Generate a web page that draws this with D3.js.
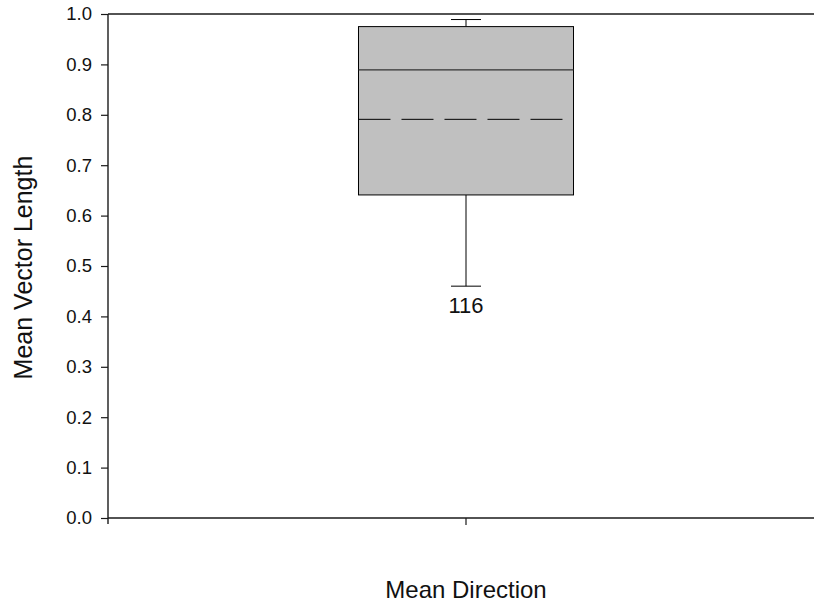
<!DOCTYPE html>
<html>
<head>
<meta charset="utf-8">
<script src="https://cdn.jsdelivr.net/npm/d3@7"></script>
<style>
  html, body { margin: 0; padding: 0; background: #fff; }
  svg { display: block; font-family: Arial, "Liberation Sans", sans-serif; }
</style>
</head>
<body>
<svg id="chart" width="814" height="605"></svg>
<script>
// Box plot data for the single group
const categories = ["Mean Direction"];
const whiskerLow = [0.460];
const quartile1 = [0.641];
const medians = [0.889];
const means = [0.791];
const quartile3 = [0.975];
const whiskerHigh = [0.989];
const pointLabels = ["116"];
const yTicks = [0.0, 0.1, 0.2, 0.3, 0.4, 0.5, 0.6, 0.7, 0.8, 0.9, 1.0];

const svg = d3.select("#chart");
const plot = { left: 108, right: 824, top: 14, bottom: 518 };

const x = d3.scaleBand()
  .domain(categories)
  .range([plot.left, plot.right])
  .paddingInner(0)
  .paddingOuter(1.165);

const y = d3.scaleLinear()
  .domain([0, 1])
  .range([plot.bottom, plot.top]);

const ink = "#1a1a1a";

// Y axis with outward ticks
const yAxis = svg.append("g")
  .attr("transform", `translate(${plot.left},0)`)
  .call(d3.axisLeft(y).tickValues(yTicks).tickFormat(d3.format(".1f")).tickSize(7).tickPadding(9));
yAxis.select(".domain").remove();
yAxis.selectAll(".tick line").attr("stroke", ink).attr("stroke-width", 1.2);
yAxis.selectAll(".tick text")
  .attr("fill", "#111")
  .style("font-size", "18.5px")
  .style("font-family", "Arial, 'Liberation Sans', sans-serif");

// X axis: single tick at the group centre, no labels
const xAxis = svg.append("g")
  .attr("transform", `translate(0,${plot.bottom})`)
  .call(d3.axisBottom(x).tickSize(7).tickFormat(""));
xAxis.select(".domain").remove();
xAxis.selectAll(".tick line").attr("stroke", ink).attr("stroke-width", 1.2);

// Frame lines: left, bottom and top
svg.append("line").attr("x1", plot.left).attr("x2", plot.left)
  .attr("y1", plot.top).attr("y2", plot.bottom + 6)
  .attr("stroke", ink).attr("stroke-width", 1.4);
svg.append("line").attr("x1", plot.left).attr("x2", plot.right)
  .attr("y1", plot.bottom).attr("y2", plot.bottom)
  .attr("stroke", ink).attr("stroke-width", 1.4);
svg.append("line").attr("x1", plot.left).attr("x2", plot.right)
  .attr("y1", plot.top).attr("y2", plot.top)
  .attr("stroke", ink).attr("stroke-width", 1.4);

// Boxes
const groups = svg.selectAll("g.box")
  .data(categories.map((c, i) => ({
    c, lo: whiskerLow[i], q1: quartile1[i], med: medians[i], mean: means[i],
    q3: quartile3[i], hi: whiskerHigh[i], label: pointLabels[i]
  })))
  .join("g").attr("class", "box");

const bw = x.bandwidth();
const capW = 30;

groups.each(function (d) {
  const g = d3.select(this);
  const x0 = x(d.c);
  const cx = x0 + bw / 2;

  // whiskers
  g.append("line").attr("x1", cx).attr("x2", cx)
    .attr("y1", y(d.q3)).attr("y2", y(d.hi))
    .attr("stroke", "#000").attr("stroke-width", 1);
  g.append("line").attr("x1", cx).attr("x2", cx)
    .attr("y1", y(d.q1)).attr("y2", y(d.lo))
    .attr("stroke", "#000").attr("stroke-width", 1);
  g.append("line").attr("x1", cx - capW / 2).attr("x2", cx + capW / 2)
    .attr("y1", y(d.hi)).attr("y2", y(d.hi))
    .attr("stroke", "#000").attr("stroke-width", 1);
  g.append("line").attr("x1", cx - capW / 2).attr("x2", cx + capW / 2)
    .attr("y1", y(d.lo)).attr("y2", y(d.lo))
    .attr("stroke", "#000").attr("stroke-width", 1);

  // box
  g.append("rect")
    .attr("x", x0).attr("width", bw)
    .attr("y", y(d.q3)).attr("height", y(d.q1) - y(d.q3))
    .attr("fill", "#c0c0c0").attr("stroke", "#000").attr("stroke-width", 1);

  // median
  g.append("line").attr("x1", x0).attr("x2", x0 + bw)
    .attr("y1", y(d.med)).attr("y2", y(d.med))
    .attr("stroke", "#333").attr("stroke-width", 1.2);

  // mean (dashed)
  g.append("line").attr("x1", x0).attr("x2", x0 + bw)
    .attr("y1", y(d.mean)).attr("y2", y(d.mean))
    .attr("stroke", "#000").attr("stroke-width", 1)
    .attr("stroke-dasharray", "32,11");

  // label below lower whisker
  g.append("text")
    .attr("x", cx).attr("y", y(d.lo) + 27)
    .attr("text-anchor", "middle")
    .attr("fill", "#111")
    .style("font-size", "22px")
    .text(d.label);
});

// Axis titles
svg.append("text")
  .attr("x", (plot.left + plot.right) / 2).attr("y", 598)
  .attr("text-anchor", "middle").attr("fill", "#111")
  .style("font-size", "24px")
  .text("Mean Direction");

svg.append("text")
  .attr("transform", `translate(32,${(157 + 378) / 2}) rotate(-90)`)
  .attr("text-anchor", "middle").attr("fill", "#111")
  .style("font-size", "25px")
  .text("Mean Vector Length");
</script>
</body>
</html>
